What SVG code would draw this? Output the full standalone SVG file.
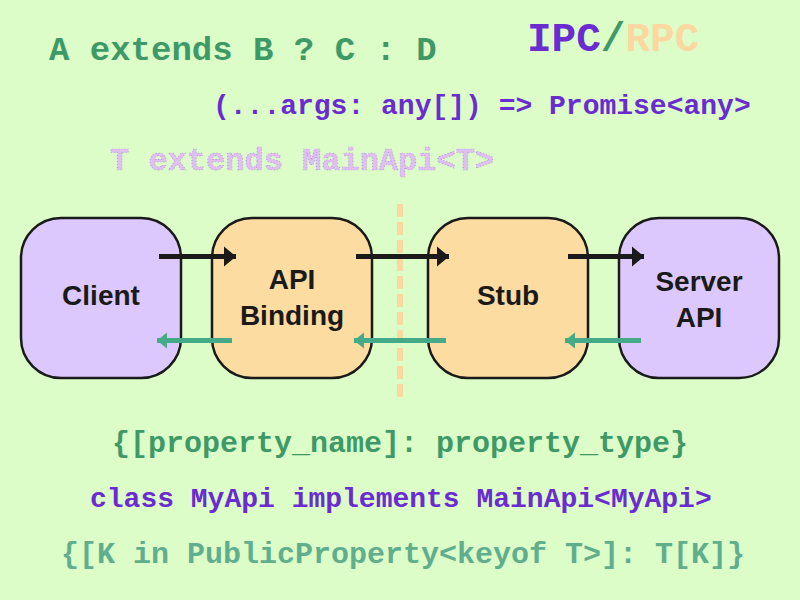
<svg xmlns="http://www.w3.org/2000/svg" width="800" height="600" viewBox="0 0 800 600">
<defs>
<style>
.code{font-family:"Liberation Mono","Courier New",monospace;font-weight:bold;}
.node rect{stroke:#1a1a1a;stroke-width:2.5;}
.purple rect{fill:#dcc8fc;}
.orange rect{fill:#fcdca0;}
.lbl{font-family:"Liberation Sans",Arial,sans-serif;font-weight:bold;font-size:28px;fill:#1a1a1a;text-anchor:middle;}
.req{stroke:#1a1a1a;stroke-width:5;fill:none;}
.resp{stroke:#44aa88;stroke-width:5;fill:none;}
</style>
<marker id="hb" markerUnits="userSpaceOnUse" markerWidth="14" markerHeight="22" refX="12" refY="11" orient="auto">
<path d="M0,1 L12,11 L0,21 Z" fill="#1a1a1a"/>
</marker>
<marker id="hg" markerUnits="userSpaceOnUse" markerWidth="12" markerHeight="18" refX="10" refY="9" orient="auto">
<path d="M0,1 L10,9 L0,17 Z" fill="#44aa88"/>
</marker>
</defs>
<rect width="800" height="600" fill="#dcfcc8"/>

<g id="texts">
<text class="code" x="49" y="60" font-size="34" fill="#3d9a66">A extends B ? C : D</text>
<text class="code" x="527" y="51" font-size="41"><tspan fill="#6a2cd0">IPC</tspan><tspan fill="#3d9a66">/</tspan><tspan fill="#fcd8a0">RPC</tspan></text>
<text class="code" x="213" y="114" font-size="28" fill="#6a2cd0">(...args: any[]) =&gt; Promise&lt;any&gt;</text>
<text class="code" x="110" y="170" font-size="32" fill="#e0c0f0" stroke="#a070e0" stroke-width="0.6" stroke-dasharray="1 2">T extends MainApi&lt;T&gt;</text>
<text class="code" x="112" y="452" font-size="30" fill="#3d9a66">{[property_name]: property_type}</text>
<text class="code" x="90" y="507" font-size="28" fill="#6a2cd0">class MyApi implements MainApi&lt;MyApi&gt;</text>
<text class="code" x="61" y="563" font-size="30" fill="#5fae8e">{[K in PublicProperty&lt;keyof T&gt;]: T[K]}</text>
</g>

<line id="divider" x1="400" y1="204" x2="400" y2="398" stroke="#fcd8a0" stroke-width="6" stroke-dasharray="13 5"/>

<g id="client" class="node purple">
<rect x="21" y="218" width="160" height="160" rx="40" ry="40"/>
<text class="lbl" x="101" y="305">Client</text>
</g>
<g id="api-binding" class="node orange">
<rect x="212" y="218" width="160" height="160" rx="40" ry="40"/>
<text class="lbl" x="292" y="289">API</text>
<text class="lbl" x="292" y="325">Binding</text>
</g>
<g id="stub" class="node orange">
<rect x="428" y="218" width="160" height="160" rx="40" ry="40"/>
<text class="lbl" x="508" y="305">Stub</text>
</g>
<g id="server-api" class="node purple">
<rect x="619" y="218" width="160" height="160" rx="40" ry="40"/>
<text class="lbl" x="699" y="291">Server</text>
<text class="lbl" x="699" y="327">API</text>
</g>

<g id="connectors">
<line class="req" x1="159" y1="256.5" x2="236" y2="256.5" marker-end="url(#hb)"/>
<line class="req" x1="356" y1="256.5" x2="449" y2="256.5" marker-end="url(#hb)"/>
<line class="req" x1="568" y1="256.5" x2="644" y2="256.5" marker-end="url(#hb)"/>
<line class="resp" x1="232" y1="340.5" x2="157" y2="340.5" marker-end="url(#hg)"/>
<line class="resp" x1="446" y1="340.5" x2="354" y2="340.5" marker-end="url(#hg)"/>
<line class="resp" x1="641" y1="340.5" x2="565" y2="340.5" marker-end="url(#hg)"/>
</g>
</svg>
